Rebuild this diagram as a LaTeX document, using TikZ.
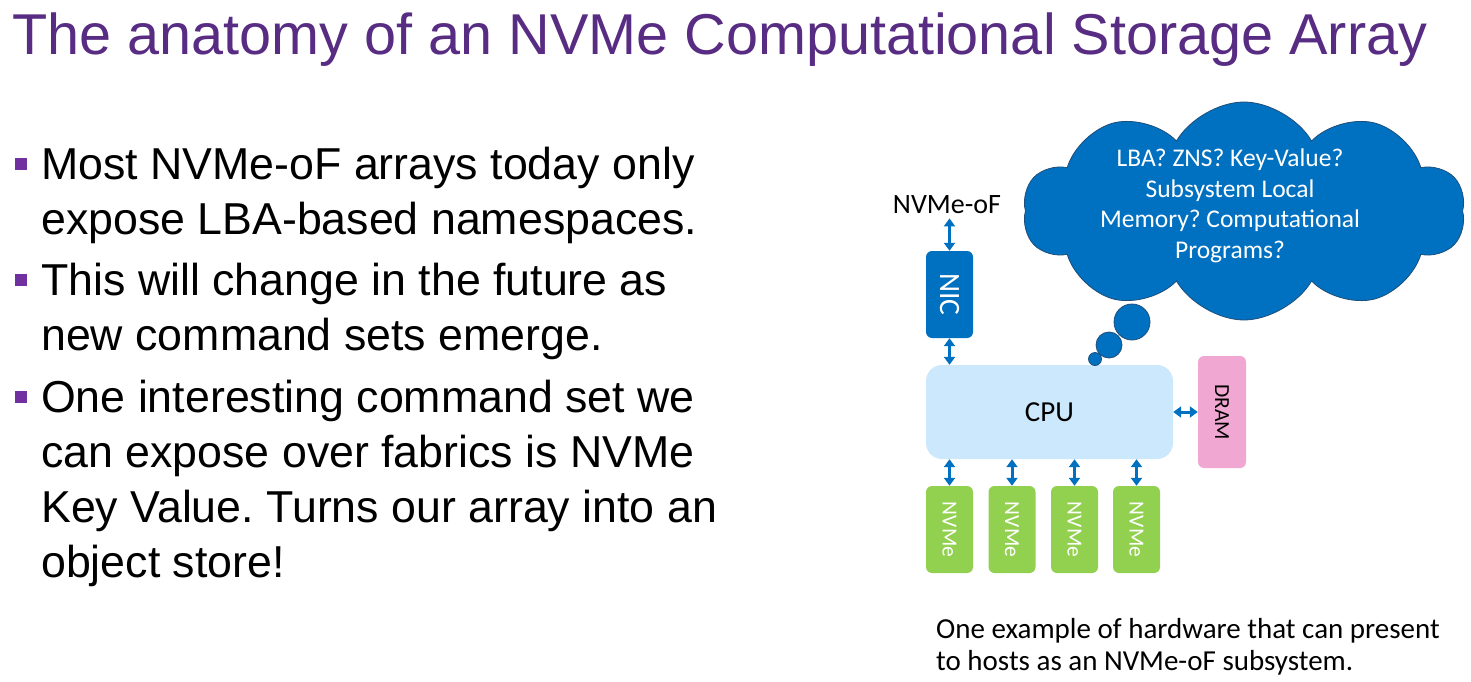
\documentclass[tikz,border=0pt]{standalone}
\usepackage{fontspec}
\setmainfont{Liberation Sans}
\newfontfamily\calibri{Carlito}
\usetikzlibrary{shapes.symbols,arrows.meta}
\frenchspacing

\definecolor{titlepurple}{HTML}{582C83}
\definecolor{bulletpurple}{HTML}{7030A0}
\definecolor{hwblue}{HTML}{0070C0}
\definecolor{cloudline}{HTML}{1F4E79}
\definecolor{cpufill}{HTML}{CCE8FC}
\definecolor{dramfill}{HTML}{F0A8D2}
\definecolor{nvmegreen}{HTML}{92D050}

\tikzset{
  titletext/.style={anchor=base west, inner sep=0, text=titlepurple,
    font=\fontsize{57.6}{70}\selectfont},
  bullettext/.style={anchor=base west, inner sep=0,
    font=\fontsize{44.7}{55}\selectfont},
  bulletmark/.style={fill=bulletpurple, minimum size=12, inner sep=0},
  hwbox/.style={rounded corners=6, inner sep=0, minimum width=47, minimum height=87},
  hwlabel/.style={rotate=-90, font=\calibri\fontsize{21.5}{24}\selectfont},
  biarrow/.style={draw=hwblue, line width=3,
    {Triangle[length=8,width=11]}-{Triangle[length=8,width=11]}},
  captext/.style={anchor=base west, inner sep=0, font=\calibri\fontsize{29}{32}\selectfont},
}

\begin{document}
\begin{tikzpicture}[x=1pt,y=-1pt]
\useasboundingbox (0,0) rectangle (1471,682);

% heading
\node[titletext] (title) at (12,55) {The anatomy of an NVMe Computational Storage Array};

% bullet list
\node[bulletmark] (m1) at (21,163.5) {};
\node[bullettext] (b1a) at (41,179) {Most NVMe-oF arrays today only};
\node[bullettext] (b1b) at (41,234) {expose LBA-based namespaces.};
\node[bulletmark] (m2) at (21,279.5) {};
\node[bullettext] (b2a) at (41,295) {This will change in the future as};
\node[bullettext] (b2b) at (41,350) {new command sets emerge.};
\node[bulletmark] (m3) at (21,396.5) {};
\node[bullettext] (b3a) at (41,412) {One interesting command set we};
\node[bullettext] (b3b) at (41,467) {can expose over fabrics is NVMe};
\node[bullettext] (b3c) at (41,522) {Key Value. Turns our array into an};
\node[bullettext] (b3d) at (41,577) {object store!};

% fabric label and hardware blocks
\node[anchor=base, inner sep=0, font=\calibri\fontsize{28}{30}\selectfont] (nof) at (947,213) {NVMe-oF};
\node[hwbox, fill=hwblue] (nic) at (949.5,294.5) {};
\node[hwlabel, text=white, font=\calibri\fontsize{29.5}{32}\selectfont] (niclbl) at (nic.center) {NIC};
\node[rounded corners=16, inner sep=0, minimum width=247, minimum height=94, fill=cpufill,
      font=\calibri\fontsize{29}{31}\selectfont] (cpu) at (1049.5,412) {CPU};
\node[hwbox, fill=dramfill, minimum height=112, minimum width=48] (dram) at (1222,412) {};
\node[hwlabel] (dramlbl) at (dram.center) {DRAM};
\foreach \i/\x in {1/949.5,2/1012,3/1074.5,4/1136.5}{
  \node[hwbox, fill=nvmegreen] (nvme\i) at (\x,529.5) {};
  \node[hwlabel, text=white] (nvmelbl\i) at (nvme\i.center) {NVMe};
}

% links
\draw[biarrow, shorten <=5] (nof.south -| nic.north) -- (nic.north);
\draw[biarrow] (nic.south) -- (nic.south |- cpu.north);
\draw[biarrow] (cpu.east) -- (dram.west);
\foreach \i in {1,...,4}{
  \draw[biarrow] (nvme\i.north |- cpu.south) -- (nvme\i.north);
}

% thought cloud
\node[cloud, cloud puffs=10, cloud puff arc=120, aspect=2.0, inner sep=0,
      minimum width=442, minimum height=218, fill=hwblue, draw=cloudline, line width=0.8]
      (cloud) at (1244,211) {};
\node[circle, inner sep=0, minimum size=36, fill=hwblue, draw=cloudline, line width=0.8] (bub1) at (1132,322) {};
\node[circle, inner sep=0, minimum size=26, fill=hwblue, draw=cloudline, line width=0.8] (bub2) at (1109,345) {};
\node[circle, inner sep=0, minimum size=13, fill=hwblue, draw=cloudline, line width=0.8] (bub3) at (1095,359) {};
\node[align=center, text=white, inner sep=0, font=\calibri\fontsize{25.5}{30.5}\selectfont]
      (cloudtxt) at (1230,206) {LBA? ZNS? Key-Value?\\Subsystem Local\\Memory? Computational\\Programs?};

% caption
\node[captext] (cap1) at (936,638) {One example of hardware that can present};
\node[captext] (cap2) at (936,670) {to hosts as an NVMe-oF subsystem.};
\end{tikzpicture}
\end{document}
